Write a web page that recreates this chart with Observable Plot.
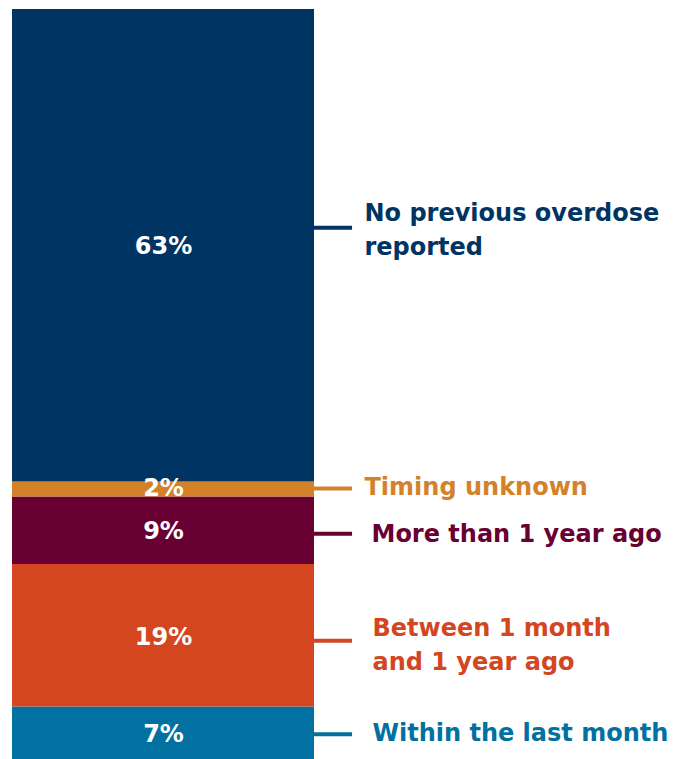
<!DOCTYPE html>
<html>
<head>
<meta charset="utf-8">
<script src="https://cdn.jsdelivr.net/npm/d3@7"></script>
<script src="https://cdn.jsdelivr.net/npm/@observablehq/plot@0.6"></script>
<style>
  html, body { margin: 0; padding: 0; background: #fff; }
</style>
</head>
<body>
<div id="chart"></div>
<script>
// Data (bottom to top of the stacked bar)
const keys = [
  "Within the last month",
  "Between 1 month and 1 year ago",
  "More than 1 year ago",
  "Timing unknown",
  "No previous overdose reported"
];
const labels = [
  "Within the last month",
  "Between 1 month\nand 1 year ago",
  "More than 1 year ago",
  "Timing unknown",
  "No previous overdose\nreported"
];
const values = [7, 19, 9, 2, 63];

// Styles
const palette = ["#0071A0", "#D3461F", "#680032", "#D4822A", "#003462"];

const cum = Array.from(d3.cumsum(values));
const data = keys.map((k, i) => ({
  key: k,
  label: labels[i],
  value: values[i],
  y1: cum[i] - values[i],
  y2: cum[i],
  mid: cum[i] - values[i] / 2
}));

// per-label nudges (px): [leader line dy, label text dy, label text dx, value label dy]
const nudge = {
  "Within the last month": [1, -3, 58, 1],
  "Between 1 month and 1 year ago": [5, 6, 58, 2],
  "More than 1 year ago": [3, 0, 57, 1],
  "Timing unknown": [-1, -5, 50, -1],
  "No previous overdose reported": [-18, -19, 50, 1]
};

const labelMarks = data.flatMap(d => {
  const [ldy, tdy, tdx, vdy] = nudge[d.key];
  return [
    Plot.ruleY([d], {y: "mid", x1: 1, x2: 1.126, stroke: "key", strokeWidth: 4, dy: ldy}),
    Plot.text([d], {
      x: 1, y: "mid", text: "label", fill: "key",
      textAnchor: "start", dx: tdx, dy: tdy,
      fontSize: 24, fontWeight: "bold", lineHeight: 1.42
    }),
    Plot.text([d], {
      x: 0.5, y: "mid", text: v => v.value + "%", fill: "white",
      fontSize: 24, fontWeight: "bold", dy: vdy
    })
  ];
});

const chart = Plot.plot({
  width: 686,
  height: 759,
  marginTop: 9,
  marginBottom: 0,
  marginLeft: 12,
  marginRight: 372,
  x: {domain: [0, 1], axis: null},
  y: {domain: [0, 100], axis: null},
  color: {domain: keys, range: palette},
  style: {fontFamily: "'DejaVu Sans', sans-serif", background: "white", overflow: "visible"},
  marks: [
    Plot.rectY(data, {x1: 0, x2: 1, y1: "y1", y2: "y2", fill: "key"}),
    ...labelMarks
  ]
});

document.getElementById("chart").appendChild(chart);
</script>
</body>
</html>
